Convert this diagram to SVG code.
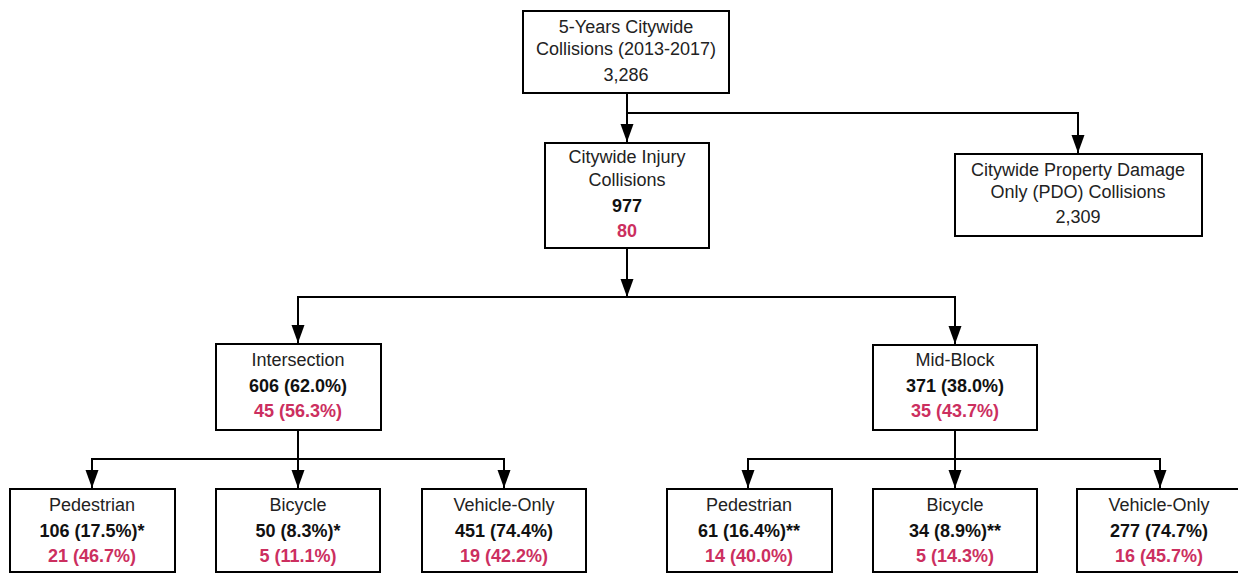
<svg xmlns="http://www.w3.org/2000/svg" width="1238" height="574" viewBox="0 0 1238 574">
<style>
.box{fill:#fff;stroke:#000;stroke-width:2}
text{font-family:"Liberation Sans",Arial,sans-serif;font-size:18px;text-anchor:middle;fill:#222}
.b{font-weight:bold;fill:#111}
.r{fill:#cc2f5f;font-weight:bold}
.c{fill:none;stroke:#000;stroke-width:2}
</style>
<defs>
<marker id="a" viewBox="0 -7 18 14" refX="18" refY="0" markerWidth="18" markerHeight="14" markerUnits="userSpaceOnUse" orient="auto">
<path d="M0,-6.5 L18,0 L0,6.5 Z" fill="#000"/>
</marker>
</defs>
<g id="connectors">
<path class="c" d="M627,93 V142" marker-end="url(#a)"/>
<path class="c" d="M627,113 H1078 V153" marker-end="url(#a)"/>
<path class="c" d="M627,248 V297" marker-end="url(#a)"/>
<path class="c" d="M627,297 H955 V344" marker-end="url(#a)"/>
<path class="c" d="M627,297 H298 V343" marker-end="url(#a)"/>
<path class="c" d="M298,430 V488" marker-end="url(#a)"/>
<path class="c" d="M298,459 H92 V488" marker-end="url(#a)"/>
<path class="c" d="M298,459 H504 V488" marker-end="url(#a)"/>
<path class="c" d="M955,430 V488" marker-end="url(#a)"/>
<path class="c" d="M955,459 H748 V488" marker-end="url(#a)"/>
<path class="c" d="M955,459 H1160 V488" marker-end="url(#a)"/>
</g>
<g id="n-total"><rect class="box" x="523" y="11" width="206" height="82"/>
<text x="626" y="33">5-Years Citywide</text><text x="626" y="55">Collisions (2013-2017)</text><text x="626" y="81">3,286</text></g>
<g id="n-injury"><rect class="box" x="545" y="143" width="164" height="105"/>
<text x="627" y="163">Citywide Injury</text><text x="627" y="186">Collisions</text><text class="b" x="627" y="212">977</text><text class="r" x="627" y="237">80</text></g>
<g id="n-pdo"><rect class="box" x="955" y="154" width="247" height="82"/>
<text x="1078" y="176">Citywide Property Damage</text><text x="1078" y="198">Only (PDO) Collisions</text><text x="1078" y="223">2,309</text></g>
<g id="n-intersection"><rect class="box" x="216" y="344" width="165" height="86"/>
<text x="298" y="366">Intersection</text><text class="b" x="298" y="392">606 (62.0%)</text><text class="r" x="298" y="417">45 (56.3%)</text></g>
<g id="n-midblock"><rect class="box" x="873" y="345" width="164" height="85"/>
<text x="955" y="366">Mid-Block</text><text class="b" x="955" y="392">371 (38.0%)</text><text class="r" x="955" y="417">35 (43.7%)</text></g>
<g id="n-i-ped"><rect class="box" x="10" y="489" width="165" height="83"/>
<text x="92" y="511">Pedestrian</text><text class="b" x="92" y="537">106 (17.5%)*</text><text class="r" x="92" y="562">21 (46.7%)</text></g>
<g id="n-i-bike"><rect class="box" x="216" y="489" width="164" height="83"/>
<text x="298" y="511">Bicycle</text><text class="b" x="298" y="537">50 (8.3%)*</text><text class="r" x="298" y="562">5 (11.1%)</text></g>
<g id="n-i-veh"><rect class="box" x="422" y="489" width="164" height="83"/>
<text x="504" y="511">Vehicle-Only</text><text class="b" x="504" y="537">451 (74.4%)</text><text class="r" x="504" y="562">19 (42.2%)</text></g>
<g id="n-m-ped"><rect class="box" x="667" y="489" width="165" height="83"/>
<text x="749" y="511">Pedestrian</text><text class="b" x="749" y="537">61 (16.4%)**</text><text class="r" x="749" y="562">14 (40.0%)</text></g>
<g id="n-m-bike"><rect class="box" x="873" y="489" width="164" height="83"/>
<text x="955" y="511">Bicycle</text><text class="b" x="955" y="537">34 (8.9%)**</text><text class="r" x="955" y="562">5 (14.3%)</text></g>
<g id="n-m-veh"><rect class="box" x="1077" y="489" width="164" height="83"/>
<text x="1159" y="511">Vehicle-Only</text><text class="b" x="1159" y="537">277 (74.7%)</text><text class="r" x="1159" y="562">16 (45.7%)</text></g>
</svg>
